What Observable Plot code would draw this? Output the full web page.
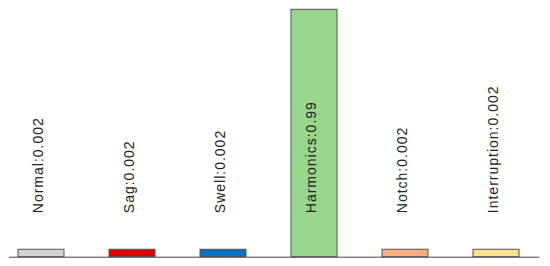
<!DOCTYPE html>
<html>
<head>
<meta charset="utf-8">
<script src="https://cdn.jsdelivr.net/npm/d3@7"></script>
<script src="https://cdn.jsdelivr.net/npm/@observablehq/plot@0.6"></script>
<style>
  html, body { margin: 0; padding: 0; background: #fff; }
  #chart svg { display: block; }
  #chart svg text { letter-spacing: 1px; }
</style>
</head>
<body>
<div id="chart"></div>
<script>
const categories = ["Normal", "Sag", "Swell", "Harmonics", "Notch", "Interruption"];
const values = [0.002, 0.002, 0.002, 0.99, 0.002, 0.002];
const colors = ["#d2d2d2", "#e00000", "#0a70c0", "#98d68c", "#fdae7c", "#fde48c"];

const base = 0.00165;
const data = categories.map((c, i) => ({cat: c, value: values[i], label: `${c}:${values[i]}`}));

const chart = Plot.plot({
  width: 550,
  height: 266,
  marginTop: 9.3,
  marginBottom: 9.3,
  marginLeft: 16.5,
  marginRight: 30.75,
  style: {fontFamily: "'Liberation Sans', Arial, sans-serif", background: "#fff"},
  x: {domain: categories, paddingInner: 0.5, paddingOuter: 0, axis: null},
  y: {type: "log", domain: [base, 0.99], axis: null},
  color: {domain: categories, range: colors},
  marks: [
    Plot.barY(data, {x: "cat", y1: base, y2: "value", fill: "cat", stroke: "#555", strokeWidth: 1}),
    Plot.ruleY([base], {insetLeft: -7.5, insetRight: -20, stroke: "#444", strokeWidth: 1}),
    Plot.text(data, {x: "cat", dx: 1, frameAnchor: "bottom", dy: -44, text: "label", rotate: -90, textAnchor: "start", fontSize: 14, fill: "#222"})
  ]
});
document.getElementById("chart").appendChild(chart);
</script>
</body>
</html>
